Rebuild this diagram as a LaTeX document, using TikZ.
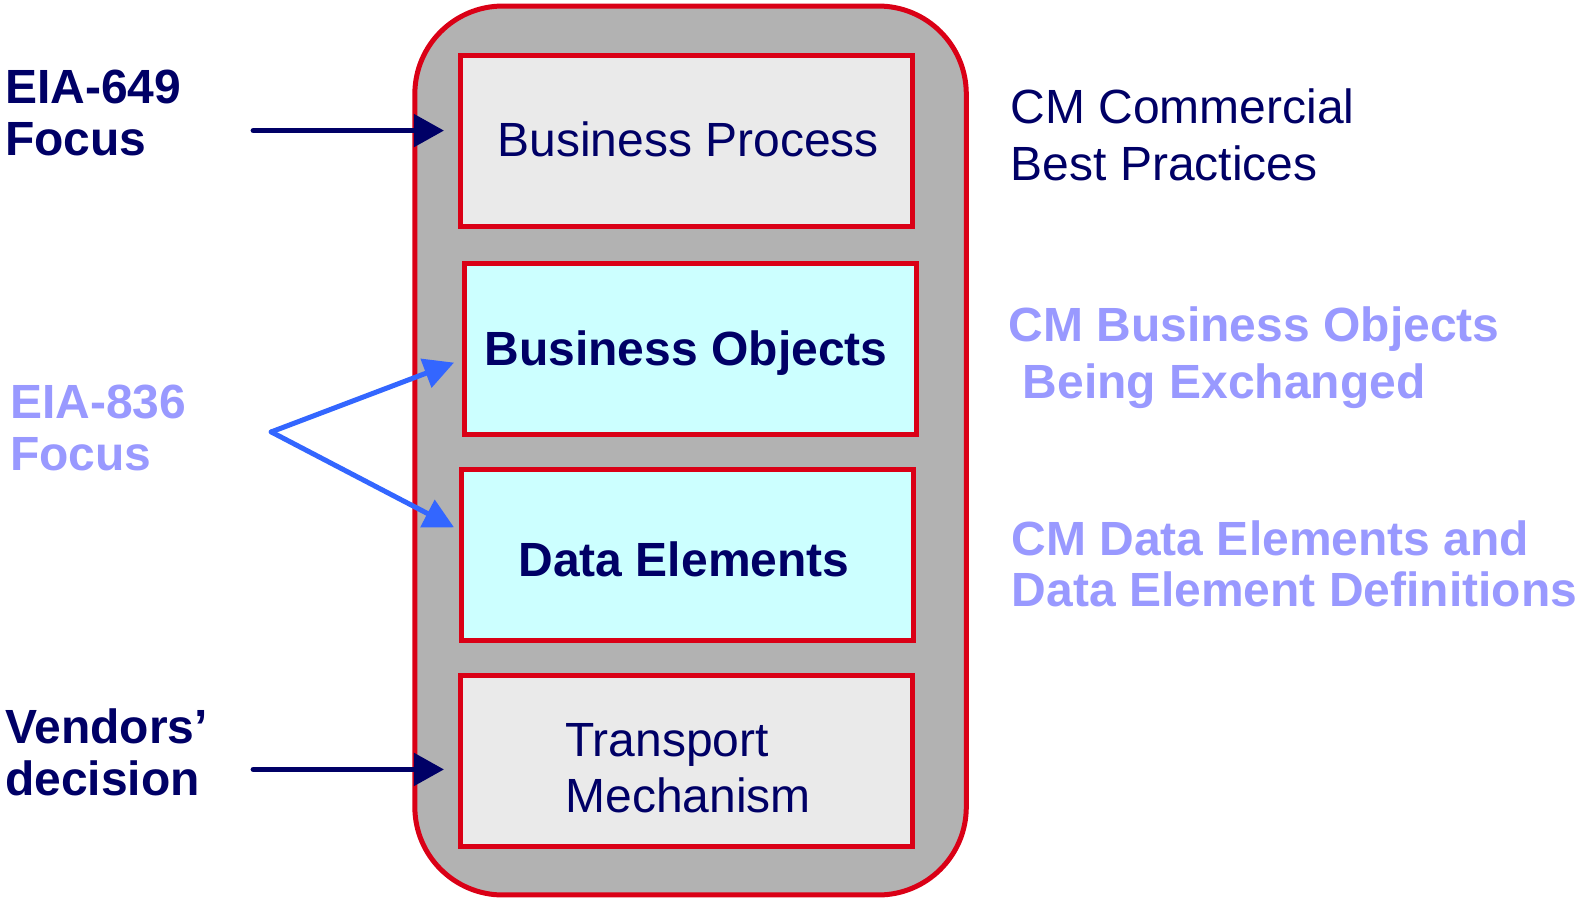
\documentclass[tikz,border=0pt]{standalone}
\usepackage{fontspec}
\setmainfont{Liberation Sans}
\usetikzlibrary{arrows.meta}
\definecolor{navy}{HTML}{000066}
\definecolor{lilac}{HTML}{9999FF}
\definecolor{arrblue}{HTML}{3366FF}
\definecolor{boxred}{HTML}{DA0016}
\definecolor{outgray}{HTML}{B2B2B2}
\definecolor{lgray}{HTML}{EAEAEA}
\definecolor{lcyan}{HTML}{CCFFFF}
\tikzset{
  layerbox/.style={draw=boxred, line width=5pt, inner sep=0pt, minimum width=452pt, minimum height=171pt},
  boxtext/.style={inner sep=0pt, text=navy, align=left, font=\fontsize{48}{56}\selectfont},
  sidelabel/.style={anchor=base west, inner sep=0pt, align=left, font=\fontsize{48}{52}\selectfont},
  navyarrow/.style={draw=navy, line width=5pt, line cap=round, -{Triangle[length=30pt,width=32pt]}},
  bluearrow/.style={draw=arrblue, line width=5pt, line cap=round, line join=round, -{Triangle[length=30pt,width=30pt]}}
}
\begin{document}
\begin{tikzpicture}[x=1.0045pt,y=-1.0045pt]
\useasboundingbox (0,0) rectangle (1568,895);
\draw[draw=boxred, fill=outgray, line width=5pt, rounded corners=88pt] (413,6) rectangle (962,891);
\node[layerbox, fill=lgray] (bp) at (683,140) {};
\node[layerbox, fill=lcyan] (bo) at (687,347) {};
\node[layerbox, fill=lcyan] (de) at (684,553) {};
\node[layerbox, fill=lgray] (tm) at (683,758) {};
\node[boxtext] (bpt) at (685,139) {Business Process};
\node[boxtext, font=\fontsize{48}{56}\selectfont\bfseries] (bot) at (683,352) {Business Objects};
\node[boxtext, font=\fontsize{48}{56}\selectfont\bfseries] (det) at (681,557) {Data Elements};
\node[boxtext] (tmt) at (685,765) {Transport\\Mechanism};
% left labels
\node[sidelabel, text=navy, font=\fontsize{48}{52}\selectfont\bfseries] (eia649) at (5,155) {EIA-649\\Focus};
\node[sidelabel, text=lilac, font=\fontsize{48}{52}\selectfont\bfseries] (eia836) at (10,468) {EIA-836\\Focus};
\node[sidelabel, text=navy, font=\fontsize{48}{52}\selectfont\bfseries] (vend) at (5,792) {Vendors’\\decision};
% right labels
\node[sidelabel, text=navy, font=\fontsize{48}{57}\selectfont] (cmc) at (1006,180) {CM Commercial\\Best Practices};
\node[sidelabel, text=lilac, font=\fontsize{48}{57}\selectfont\bfseries] (cmbo) at (1004,397) {CM Business Objects\\\hspace*{14pt}Being Exchanged};
\node[sidelabel, text=lilac, font=\fontsize{48}{51}\selectfont\bfseries] (cmde) at (1007,604) {CM Data Elements and\\Data Element Definitions};
% arrows
\coordinate (a1s) at (252,130);
\coordinate (a1e) at (442,130);
\coordinate (a2s) at (252,766);
\coordinate (a2e) at (442,766);
\draw[navyarrow] (a1s) -- (a1e);
\draw[navyarrow] (a2s) -- (a2e);
\coordinate (apex) at (270,430);
\coordinate (bt1) at (452,361);
\coordinate (bt2) at (452,525);
\draw[bluearrow] (apex) -- (bt1);
\draw[bluearrow] (apex) -- (bt2);
\end{tikzpicture}
\end{document}
